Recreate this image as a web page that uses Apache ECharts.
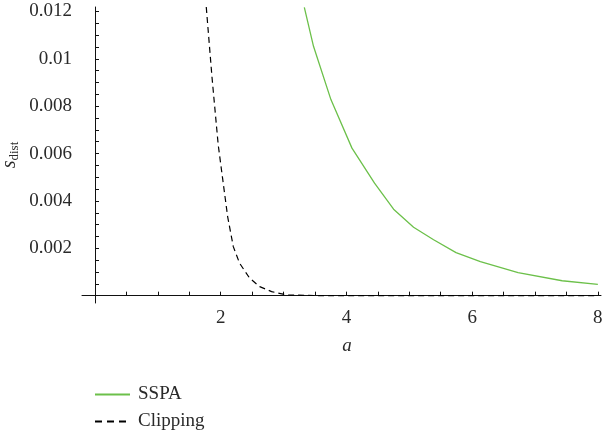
<!DOCTYPE html>
<html>
<head>
<meta charset="utf-8">
<script src="https://cdn.jsdelivr.net/npm/echarts@6/dist/echarts.min.js"></script>
<style>
html,body{margin:0;padding:0;background:#fff;}
#chart{width:608px;height:437px;}
</style>
</head>
<body>
<div id="chart"></div>
<script>
// ---- data ----
const sspaX = [3.33, 3.476, 3.753, 4.088, 4.447, 4.750, 5.068, 5.387, 5.744, 6.131, 6.731, 7.432, 8.0];
const sspaY = [0.01217, 0.01053, 0.00828, 0.00623, 0.00475, 0.00365, 0.00289, 0.00236, 0.00182, 0.00144, 0.00097, 0.00063, 0.00048];

const clipX = [1.77, 1.86, 1.96, 2.03, 2.11, 2.20, 2.30, 2.46, 2.62, 2.81, 3.05, 3.5, 4.0, 5.0, 6.0, 7.0, 8.0];
const clipY = [0.01219, 0.00926, 0.00637, 0.00495, 0.00334, 0.00207, 0.00137, 0.00074, 0.00038, 0.00017, 0.00003, 0.000005, 0, 0, 0, 0, 0];

const xTickValues = [0.5, 1, 1.5, 2, 2.5, 3, 3.5, 4, 4.5, 5, 5.5, 6, 6.5, 7, 7.5, 8];
const xLabelValues = [2, 4, 6, 8];
const yTickValues = [0.0005, 0.001, 0.0015, 0.002, 0.0025, 0.003, 0.0035, 0.004, 0.0045, 0.005, 0.0055, 0.006,
                     0.0065, 0.007, 0.0075, 0.008, 0.0085, 0.009, 0.0095, 0.01, 0.0105, 0.011, 0.0115, 0.012];
const yLabelValues = [0.002, 0.004, 0.006, 0.008, 0.01, 0.012];

const seriesNames = ['SSPA', 'Clipping'];

function pairs(xs, ys) { return xs.map((x, i) => [x, ys[i]]); }

const FONT = 'Liberation Serif';
const TXT = '#2a2a2a';

const chart = echarts.init(document.getElementById('chart'), null, {renderer: 'canvas'});
chart.setOption({
  animation: false,
  backgroundColor: '#fff',
  grid: {left: 82, right: 7, top: 7, bottom: 134, containLabel: false, outerBoundsMode: 'none'},
  xAxis: {
    type: 'value',
    min: -0.207, max: 8.05,
    splitLine: {show: false},
    axisLine: {onZero: true, lineStyle: {color: '#111', width: 1}},
    axisTick: {show: true, inside: true, length: 4, customValues: xTickValues, lineStyle: {color: '#111', width: 1}},
    axisLabel: {customValues: xLabelValues, margin: 6, color: TXT, fontFamily: FONT, fontSize: 19},
    name: 'a',
    nameLocation: 'middle',
    nameGap: 33,
    nameMoveOverlap: false,
    nameTextStyle: {fontFamily: FONT, fontStyle: 'italic', fontSize: 19, color: TXT, padding: [0, 0, 0, 11]}
  },
  yAxis: {
    type: 'value',
    min: -0.00031, max: 0.01219,
    splitLine: {show: false},
    axisLine: {onZero: true, lineStyle: {color: '#111', width: 1}},
    axisTick: {show: true, inside: true, length: 4, customValues: yTickValues, lineStyle: {color: '#111', width: 1}},
    axisLabel: {customValues: yLabelValues, margin: 10, color: TXT, fontFamily: FONT, fontSize: 19},
    name: '{s|s}{sub|dist}',
    nameLocation: 'middle',
    nameRotate: 90,
    nameGap: 61,
    nameMoveOverlap: false,
    nameTextStyle: {
      color: TXT,
      rich: {
        s: {fontFamily: FONT, fontStyle: 'italic', fontSize: 20, color: TXT, lineHeight: 20, padding: [0, 0, 3, 0]},
        sub: {fontFamily: FONT, fontSize: 13, color: TXT, lineHeight: 13, verticalAlign: 'bottom'}
      }
    }
  },
  legend: {
    orient: 'vertical',
    left: 94,
    top: 385,
    padding: 0,
    itemWidth: 35,
    itemHeight: 14,
    itemGap: 8,
    data: [
      {name: seriesNames[0]},
      {name: seriesNames[1], lineStyle: {type: [7, 5]}}
    ],
    itemStyle: {opacity: 0},
    textStyle: {fontFamily: FONT, fontSize: 19, color: TXT, padding: [0, 0, 0, 3]}
  },
  series: [
    {
      name: seriesNames[0],
      type: 'line',
      data: pairs(sspaX, sspaY),
      symbol: 'none',
      lineStyle: {color: '#6cc04a', width: 1.3},
      itemStyle: {color: '#6cc04a'},
      z: 3
    },
    {
      name: seriesNames[1],
      type: 'line',
      data: pairs(clipX, clipY),
      symbol: 'none',
      lineStyle: {color: '#000', width: 1.2, type: [6, 4]},
      itemStyle: {color: '#000'},
      z: 3
    }
  ]
});
</script>
</body>
</html>
